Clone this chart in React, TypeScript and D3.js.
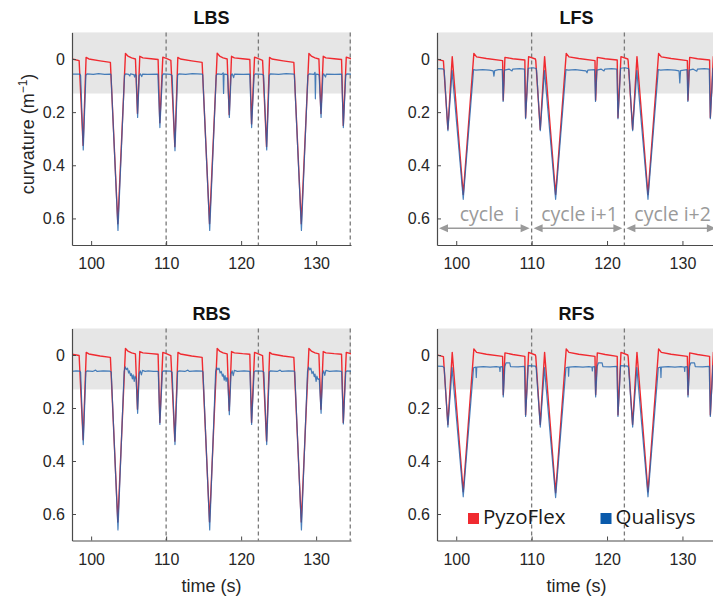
import React, { useRef, useEffect } from "react";
import * as d3 from "d3";

// axis ticks, cycle markers and legend
const xTicks = [100, 110, 120, 130];
const yTicks = [0, 0.2, 0.4, 0.6];
const cycleLines = [110, 122.3, 134.55];
const cycleBounds = [97.45, 110, 122.3, 134.7];
const cycleLabels = ["cycle  i", "cycle i+1", "cycle i+2"];
const cycleLabelX = [104.4, 116.35, 128.7];
const legendNames = ["PyzoFlex", "Qualisys"];
const bandLimit = 0.13;

// [time (s), curvature (1/m)]
const lbsPyzo = [
  [97.45, 0.0], [98.4, 0.006], [98.93, 0.325], [99.33, -0.006], [99.7, 0.0], [101.2, 0.007], [102.57, 0.013],
  [103.56, 0.62], [104.58, -0.021], [104.9, -0.011], [105.4, -0.004], [105.91, 0.0], [106.18, 0.205],
  [106.49, -0.01], [106.9, -0.004], [108.0, -0.001], [108.93, 0.002], [109.16, 0.24], [109.56, -0.007],
  [110.1, -0.001], [110.63, 0.005], [111.16, 0.33], [111.56, -0.006], [111.9, 0.0], [113.4, 0.007],
  [114.8, 0.013], [115.79, 0.62], [116.81, -0.022], [117.13, -0.011], [117.6, -0.004], [118.14, 0.0],
  [118.41, 0.21], [118.72, -0.01], [119.1, -0.004], [120.2, -0.001], [121.16, 0.002], [121.39, 0.245],
  [121.79, -0.007], [122.3, -0.001], [122.86, 0.005], [123.39, 0.33], [123.79, -0.006], [124.1, 0.0],
  [125.6, 0.007], [127.03, 0.013], [128.02, 0.62], [129.04, -0.021], [129.36, -0.011], [129.85, -0.004],
  [130.37, 0.0], [130.64, 0.205], [130.95, -0.01], [131.3, -0.004], [132.4, -0.001], [133.39, 0.002],
  [133.62, 0.25], [134.02, -0.007], [134.7, 0.0],
];
const lbsQual = [
  [97.45, 0.057], [98.5, 0.057], [98.6, 0.062], [98.95, 0.342], [99.3, 0.062], [99.45, 0.056], [100.3, 0.058],
  [101.0, 0.055], [101.8, 0.058], [102.6, 0.057], [102.65, 0.06], [103.58, 0.645], [104.45, 0.062],
  [104.6, 0.056], [105.0, 0.058], [105.15, 0.064], [105.25, 0.056], [105.7, 0.059], [105.8, 0.068],
  [105.9, 0.057], [106.0, 0.062], [106.2, 0.22], [106.42, 0.062], [106.55, 0.056], [106.75, 0.066],
  [106.85, 0.057], [107.5, 0.058], [108.9, 0.057], [109.17, 0.258], [109.5, 0.062], [109.65, 0.056],
  [110.6, 0.058], [110.8, 0.062], [111.18, 0.345], [111.53, 0.062], [111.7, 0.056], [112.6, 0.058],
  [113.5, 0.055], [114.8, 0.057], [114.88, 0.06], [115.81, 0.645], [116.68, 0.062], [116.85, 0.056],
  [117.4, 0.058], [117.6, 0.052], [117.66, 0.13], [117.72, 0.057], [118.1, 0.058], [118.2, 0.062],
  [118.43, 0.22], [118.66, 0.062], [118.8, 0.056], [119.0, 0.07], [119.1, 0.057], [120.3, 0.058],
  [121.15, 0.057], [121.4, 0.258], [121.73, 0.062], [121.9, 0.056], [122.85, 0.058], [123.0, 0.062],
  [123.41, 0.342], [123.76, 0.062], [123.9, 0.056], [125.0, 0.058], [126.0, 0.055], [127.05, 0.057],
  [127.1, 0.06], [128.04, 0.645], [128.9, 0.062], [129.1, 0.056], [129.7, 0.058], [129.85, 0.05],
  [129.9, 0.15], [129.96, 0.057], [130.3, 0.058], [130.4, 0.062], [130.66, 0.22], [130.9, 0.062],
  [131.0, 0.056], [131.25, 0.068], [131.35, 0.057], [132.5, 0.058], [133.4, 0.057], [133.63, 0.258],
  [133.95, 0.062], [134.1, 0.056], [134.7, 0.057],
];

const lfsPyzo = [
  [97.45, 0.001], [98.3, 0.007], [98.89, 0.264], [99.47, -0.009], [100.93, 0.51], [102.34, -0.021],
  [102.7, -0.008], [104.0, -0.002], [106.15, 0.006], [106.24, 0.155], [106.46, -0.006], [107.5, -0.001],
  [109.1, 0.004], [109.2, 0.22], [109.6, -0.009], [110.5, 0.0], [110.55, 0.007], [111.14, 0.265],
  [111.72, -0.009], [113.18, 0.51], [114.59, -0.021], [114.95, -0.008], [116.25, -0.002], [118.4, 0.006],
  [118.49, 0.155], [118.71, -0.006], [119.75, -0.001], [121.35, 0.004], [121.45, 0.22], [121.85, -0.009],
  [122.75, 0.0], [122.8, 0.007], [123.39, 0.265], [123.97, -0.009], [125.43, 0.51], [126.84, -0.021],
  [127.2, -0.008], [128.5, -0.002], [130.65, 0.006], [130.74, 0.155], [130.96, -0.006], [132.0, -0.001],
  [133.6, 0.004], [133.7, 0.22], [134.1, -0.009], [134.7, 0.0],
];
const lfsQual = [
  [97.45, 0.036], [98.2, 0.037], [98.4, 0.042], [98.9, 0.27], [99.45, 0.044], [100.93, 0.528], [102.3, 0.04],
  [102.6, 0.042], [103.5, 0.04], [104.4, 0.042], [104.9, 0.045], [105.0, 0.065], [105.1, 0.044], [105.6, 0.04],
  [106.1, 0.04], [106.22, 0.16], [106.4, 0.042], [107.0, 0.038], [107.4, 0.045], [107.5, 0.038], [108.4, 0.036],
  [109.05, 0.038], [109.2, 0.225], [109.55, 0.035], [110.2, 0.033], [110.6, 0.036], [110.65, 0.042],
  [111.15, 0.27], [111.7, 0.044], [113.18, 0.528], [114.55, 0.04], [114.85, 0.042], [115.8, 0.04],
  [116.6, 0.043], [117.2, 0.045], [117.35, 0.052], [117.45, 0.042], [118.35, 0.04], [118.47, 0.16],
  [118.65, 0.042], [119.2, 0.038], [119.6, 0.045], [119.7, 0.038], [120.6, 0.036], [121.3, 0.038],
  [121.45, 0.225], [121.8, 0.035], [122.4, 0.033], [122.85, 0.036], [122.9, 0.042], [123.4, 0.27],
  [123.95, 0.044], [125.43, 0.528], [126.8, 0.04], [127.1, 0.042], [128.0, 0.04], [129.0, 0.042],
  [129.55, 0.045], [129.65, 0.09], [129.75, 0.044], [130.6, 0.04], [130.72, 0.16], [130.9, 0.042],
  [131.4, 0.038], [131.9, 0.046], [132.0, 0.038], [132.9, 0.036], [133.55, 0.038], [133.7, 0.225],
  [134.05, 0.035], [134.7, 0.034],
];

const rbsPyzo = [
  [97.45, -0.003], [98.4, 0.002], [98.93, 0.32], [99.35, -0.01], [99.7, -0.004], [101.2, 0.004], [102.57, 0.009],
  [103.56, 0.63], [104.58, -0.025], [104.9, -0.015], [105.4, -0.008], [105.91, -0.004], [106.18, 0.205],
  [106.49, -0.013], [106.9, -0.008], [108.0, -0.005], [108.93, -0.003], [109.16, 0.255], [109.56, -0.01],
  [110.1, -0.004], [110.63, 0.002], [111.16, 0.325], [111.58, -0.01], [111.9, -0.004], [113.4, 0.004],
  [114.8, 0.009], [115.79, 0.63], [116.81, -0.025], [117.13, -0.015], [117.6, -0.008], [118.14, -0.004],
  [118.41, 0.21], [118.72, -0.013], [119.1, -0.008], [120.2, -0.005], [121.16, -0.003], [121.39, 0.255],
  [121.79, -0.01], [122.3, -0.004], [122.86, 0.002], [123.39, 0.325], [123.8, -0.01], [124.1, -0.004],
  [125.6, 0.004], [127.03, 0.009], [128.02, 0.63], [129.04, -0.025], [129.36, -0.015], [129.85, -0.008],
  [130.37, -0.004], [130.64, 0.205], [130.95, -0.013], [131.3, -0.008], [132.4, -0.005], [133.39, -0.003],
  [133.62, 0.255], [134.02, -0.01], [134.7, -0.004],
];
const rbsQual = [
  [97.45, 0.062], [98.0, 0.06], [98.5, 0.061], [98.6, 0.065], [98.95, 0.338], [99.3, 0.064], [99.45, 0.06],
  [100.2, 0.062], [100.6, 0.057], [100.8, 0.062], [101.6, 0.06], [102.5, 0.061], [102.68, 0.064], [103.58, 0.66],
  [104.4, 0.062], [104.55, 0.045], [104.7, 0.055], [104.85, 0.05], [105.0, 0.068], [105.1, 0.06], [105.25, 0.078],
  [105.35, 0.07], [105.5, 0.09], [105.6, 0.075], [105.75, 0.1], [105.85, 0.08], [106.0, 0.09], [106.2, 0.22],
  [106.42, 0.07], [106.55, 0.06], [106.7, 0.075], [106.85, 0.058], [107.2, 0.062], [107.6, 0.06], [108.3, 0.062],
  [108.95, 0.062], [109.17, 0.262], [109.5, 0.064], [109.65, 0.06], [110.6, 0.061], [110.8, 0.065],
  [111.18, 0.338], [111.53, 0.064], [111.7, 0.06], [112.5, 0.062], [112.9, 0.057], [113.1, 0.062], [114.0, 0.06],
  [114.85, 0.061], [114.92, 0.064], [115.81, 0.66], [116.6, 0.062], [116.75, 0.048], [116.9, 0.055],
  [117.05, 0.05], [117.2, 0.068], [117.35, 0.062], [117.5, 0.08], [117.6, 0.072], [117.75, 0.095],
  [117.85, 0.078], [118.0, 0.1], [118.1, 0.085], [118.2, 0.09], [118.43, 0.225], [118.65, 0.072], [118.8, 0.06],
  [118.95, 0.078], [119.1, 0.058], [119.5, 0.062], [120.4, 0.06], [121.17, 0.062], [121.4, 0.262],
  [121.73, 0.064], [121.9, 0.06], [122.85, 0.061], [123.03, 0.065], [123.41, 0.338], [123.76, 0.064],
  [123.9, 0.06], [124.8, 0.062], [125.2, 0.057], [125.4, 0.062], [126.3, 0.06], [127.08, 0.061],
  [127.15, 0.064], [128.04, 0.66], [128.85, 0.062], [129.0, 0.046], [129.15, 0.056], [129.3, 0.05],
  [129.45, 0.07], [129.6, 0.062], [129.75, 0.082], [129.85, 0.072], [130.0, 0.1], [130.1, 0.08],
  [130.25, 0.092], [130.42, 0.09], [130.66, 0.22], [130.88, 0.07], [131.0, 0.06], [131.15, 0.077],
  [131.3, 0.058], [131.8, 0.062], [132.7, 0.06], [133.4, 0.062], [133.63, 0.26], [133.95, 0.064], [134.1, 0.06],
  [134.7, 0.061],
];

const rfsPyzo = [
  [97.45, 0.0], [98.3, 0.006], [98.89, 0.262], [99.47, -0.01], [100.93, 0.516], [102.34, -0.023], [102.7, -0.01],
  [104.0, -0.003], [106.15, 0.005], [106.24, 0.15], [106.46, -0.008], [107.5, -0.002], [109.1, 0.005],
  [109.2, 0.226], [109.6, -0.01], [110.5, 0.0], [110.55, 0.006], [111.14, 0.262], [111.72, -0.01],
  [113.18, 0.52], [114.59, -0.023], [114.95, -0.01], [116.25, -0.003], [118.4, 0.005], [118.49, 0.15],
  [118.71, -0.008], [119.75, -0.002], [121.35, 0.005], [121.45, 0.226], [121.85, -0.01], [122.75, 0.0],
  [122.8, 0.006], [123.39, 0.262], [123.97, -0.01], [125.43, 0.516], [126.84, -0.023], [127.2, -0.01],
  [128.5, -0.003], [130.65, 0.005], [130.74, 0.15], [130.96, -0.008], [132.0, -0.002], [133.6, 0.005],
  [133.7, 0.226], [134.1, -0.01], [134.7, 0.0],
];
const rfsQual = [
  [97.45, 0.042], [98.2, 0.043], [98.4, 0.048], [98.9, 0.272], [99.45, 0.048], [100.93, 0.535], [102.3, 0.048],
  [102.6, 0.046], [102.66, 0.085], [102.72, 0.046], [103.6, 0.044], [104.5, 0.046], [105.3, 0.044],
  [105.75, 0.046], [105.8, 0.062], [105.85, 0.045], [106.12, 0.044], [106.24, 0.158], [106.45, 0.043],
  [106.6, 0.03], [107.1, 0.03], [107.2, 0.044], [108.2, 0.045], [109.05, 0.043], [109.2, 0.232], [109.55, 0.04],
  [110.5, 0.042], [110.6, 0.048], [111.15, 0.272], [111.7, 0.048], [113.18, 0.538], [114.55, 0.048],
  [114.85, 0.046], [114.9, 0.08], [114.96, 0.046], [115.8, 0.044], [116.8, 0.046], [117.6, 0.044],
  [118.0, 0.046], [118.05, 0.06], [118.1, 0.045], [118.37, 0.044], [118.49, 0.158], [118.7, 0.043],
  [118.85, 0.03], [119.35, 0.03], [119.45, 0.044], [120.4, 0.045], [121.3, 0.043], [121.45, 0.232],
  [121.8, 0.04], [122.75, 0.042], [122.85, 0.048], [123.4, 0.272], [123.95, 0.048], [125.43, 0.535],
  [126.8, 0.048], [127.1, 0.046], [127.15, 0.085], [127.2, 0.046], [128.1, 0.044], [129.0, 0.046],
  [129.8, 0.044], [130.25, 0.046], [130.3, 0.062], [130.35, 0.045], [130.62, 0.044], [130.74, 0.158],
  [130.95, 0.043], [131.1, 0.03], [131.6, 0.03], [131.7, 0.044], [132.7, 0.045], [133.55, 0.043],
  [133.7, 0.232], [134.05, 0.04], [134.7, 0.042],
];

const RED = "#f02a30";
const BLUE = "#1d62ad";
const AXIS = "#4a4a4a";
const TEXT = "#262626";
const TICK_FONT = "'Liberation Sans', Arial, sans-serif";
const LABEL_FONT = "'Open Sans', 'Noto Sans', sans-serif";

const panels = [
  { title: "LBS", pyzo: lbsPyzo, qual: lbsQual, xr: [72, 351], yr: [32.4, 245], yLabel: true },
  { title: "LFS", pyzo: lfsPyzo, qual: lfsQual, xr: [437, 717.5], yr: [32.4, 245], cycles: true },
  { title: "RBS", pyzo: rbsPyzo, qual: rbsQual, xr: [72, 351], yr: [328.5, 540.5], xLabel: true },
  { title: "RFS", pyzo: rfsPyzo, qual: rfsQual, xr: [437, 717.5], yr: [328.5, 540.5], xLabel: true, legend: true },
];

const CurvatureChart = ({ width = 713, height = 596 }) => {
  const svgRef = useRef(null);

  useEffect(() => {
    const svg = d3.select(svgRef.current);
    svg.selectAll("*").remove();

    panels.forEach((p, i) => {
      const xScale = d3.scaleLinear().domain([97.45, 134.65]).range(p.xr);
      const yScale = d3.scaleLinear().domain([-0.1, 0.7]).range(p.yr);
      const [x0, x1] = p.xr;
      const [y0, y1] = p.yr;
      const g = svg.append("g");

      // gray band
      g.append("rect")
        .attr("x", x0)
        .attr("y", yScale(-0.1))
        .attr("width", x1 - x0)
        .attr("height", yScale(bandLimit) - yScale(-0.1))
        .attr("fill", "#e6e6e6");

      // cycle separators
      g.selectAll(".sep")
        .data(cycleLines)
        .enter()
        .append("line")
        .attr("x1", (d) => xScale(d))
        .attr("x2", (d) => xScale(d))
        .attr("y1", y0)
        .attr("y2", y1)
        .attr("stroke", "#7a7a7a")
        .attr("stroke-width", 1.3)
        .attr("stroke-dasharray", "4,3");

      const clipId = `clip-${i}`;
      g.append("clipPath")
        .attr("id", clipId)
        .append("rect")
        .attr("x", x0)
        .attr("y", y0)
        .attr("width", x1 - x0)
        .attr("height", y1 - y0);

      const line = d3
        .line()
        .x((d) => xScale(d[0]))
        .y((d) => yScale(d[1]));

      g.append("path")
        .datum(p.pyzo)
        .attr("clip-path", `url(#${clipId})`)
        .attr("fill", "none")
        .attr("stroke", RED)
        .attr("stroke-width", 1.4)
        .attr("stroke-linejoin", "round")
        .attr("d", line);

      g.append("path")
        .datum(p.qual)
        .attr("clip-path", `url(#${clipId})`)
        .attr("fill", "none")
        .attr("stroke", BLUE)
        .attr("stroke-width", 1.2)
        .attr("stroke-opacity", 0.8)
        .attr("stroke-linejoin", "round")
        .attr("d", line);

      // axes (MATLAB style, inward ticks, no box)
      const xAxis = d3.axisBottom(xScale).tickValues(xTicks).tickSize(-4).tickSizeOuter(0).tickPadding(13);
      const yAxis = d3
        .axisLeft(yScale)
        .tickValues(yTicks)
        .tickSize(-4)
        .tickSizeOuter(0)
        .tickPadding(7)
        .tickFormat((d) => (d === 0 ? "0" : d3.format(".1f")(d)));

      const gx = g.append("g").attr("transform", `translate(0,${y1})`).call(xAxis);
      const gy = g.append("g").attr("transform", `translate(${x0},0)`).call(yAxis);
      [gx, gy].forEach((a) => {
        a.select(".domain").attr("stroke", AXIS).attr("stroke-width", 1.2);
        a.selectAll(".tick line").attr("stroke", AXIS);
        a.selectAll(".tick text")
          .attr("fill", TEXT)
          .style("font-family", TICK_FONT)
          .style("font-size", "16px");
      });

      g.append("text")
        .attr("x", (x0 + 351 + (x0 - 72)) / 2)
        .attr("y", y0 - 8.5)
        .attr("text-anchor", "middle")
        .attr("fill", "#111")
        .style("font-family", TICK_FONT)
        .style("font-size", "18px")
        .style("font-weight", "bold")
        .text(p.title);

      if (p.xLabel) {
        g.append("text")
          .attr("x", (x0 + 351 + (x0 - 72)) / 2)
          .attr("y", y1 + 51)
          .attr("text-anchor", "middle")
          .attr("fill", TEXT)
          .style("font-family", TICK_FONT)
          .style("font-size", "18px")
          .text("time (s)");
      }

      if (p.yLabel) {
        const t = g
          .append("text")
          .attr("transform", `translate(34,134) rotate(-90)`)
          .attr("text-anchor", "middle")
          .attr("fill", TEXT)
          .style("font-family", TICK_FONT)
          .style("font-size", "18px");
        t.append("tspan").text("curvature (m");
        t.append("tspan").attr("dy", -7).style("font-size", "12px").text("\u22121");
        t.append("tspan").attr("dy", 7).text(")");
      }

      if (p.cycles) {
        const arrowY = y0 + 195.9;
        const segs = d3.pairs(cycleBounds);
        segs.forEach(([a, b], k) => {
          const xa = xScale(a) + 2;
          const xb = xScale(b) - 2;
          g.append("line")
            .attr("x1", xa + 6)
            .attr("x2", xb - 6)
            .attr("y1", arrowY)
            .attr("y2", arrowY)
            .attr("stroke", "#9a9a9a")
            .attr("stroke-width", 1.6);
          g.append("path")
            .attr("d", `M${xa},${arrowY}L${xa + 9},${arrowY - 4}L${xa + 9},${arrowY + 4}Z`)
            .attr("fill", "#9a9a9a");
          g.append("path")
            .attr("d", `M${xb},${arrowY}L${xb - 9},${arrowY - 4}L${xb - 9},${arrowY + 4}Z`)
            .attr("fill", "#9a9a9a");
          g.append("text")
            .attr("x", xScale(cycleLabelX[k]))
            .attr("y", arrowY - 7.5)
            .attr("text-anchor", "middle")
            .attr("fill", "#9a9a9a")
            .attr("xml:space", "preserve")
            .style("white-space", "pre")
            .style("font-family", LABEL_FONT)
            .style("font-size", "19.5px")
            .text(cycleLabels[k]);
        });
      }

      if (p.legend) {
        const items = [
          { name: legendNames[0], color: RED, x: x0 + 31 },
          { name: legendNames[1], color: "#0a5aab", x: x0 + 163.5 },
        ];
        items.forEach((it) => {
          g.append("rect")
            .attr("x", it.x)
            .attr("y", y0 + 184.5)
            .attr("width", 11)
            .attr("height", 11)
            .attr("fill", it.color);
          g.append("text")
            .attr("x", it.x + 15)
            .attr("y", y0 + 195.5)
            .attr("fill", "#1a1a1a")
            .style("font-family", LABEL_FONT)
            .style("font-size", "20.5px")
            .text(it.name);
        });
      }
    });
  }, [width, height]);

  return (
    <div style={{ position: "absolute", left: 0, top: 0, width, height, overflow: "hidden", background: "#fff" }}>
      <svg ref={svgRef} width={width} height={height}></svg>
    </div>
  );
};

export default function App() {
  return <CurvatureChart />;
}
